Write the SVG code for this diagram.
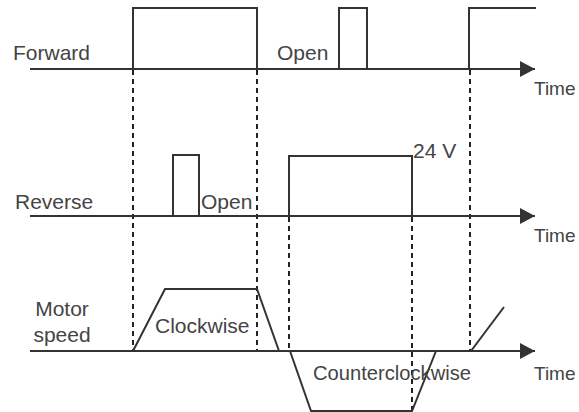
<svg xmlns="http://www.w3.org/2000/svg" width="579" height="412" viewBox="0 0 579 412">
<defs>
<style>
.t{font-family:"Liberation Sans",Arial,sans-serif;font-size:21px;fill:#444}
.tm{font-size:19px}
.s{fill:none;stroke:#333;stroke-width:2;stroke-linejoin:miter}
.d{fill:none;stroke:#222;stroke-width:2;stroke-dasharray:5 4}
</style>
<marker id="arr" markerWidth="16" markerHeight="16" refX="15" refY="8" markerUnits="userSpaceOnUse" orient="auto">
<path d="M0,0 L15,8 L0,16 Z" fill="#333"/>
</marker>
</defs>
<rect width="579" height="412" fill="#fff"/>
<g id="connectors">
<line class="d" x1="133" y1="70" x2="133" y2="350"/>
<line class="d" x1="257" y1="70" x2="257" y2="350"/>
<line class="d" x1="289" y1="217" x2="289" y2="350"/>
<line class="d" x1="412" y1="217" x2="412" y2="410"/>
<line class="d" x1="470" y1="70" x2="470" y2="350"/>
</g>
<g id="forward">
<text class="t" x="13" y="60">Forward</text>
<line class="s" x1="30" y1="69" x2="535" y2="69" marker-end="url(#arr)"/>
<polyline class="s" points="133,69 133,8 257,8 257,69"/>
<polyline class="s" points="339,69 339,8 367,8 367,69"/>
<polyline class="s" points="469,69 469,8 536,8"/>
<text class="t tm" x="534" y="95">Time</text>
<text class="t" x="277" y="60">Open</text>
</g>
<g id="reverse">
<text class="t" x="15" y="209">Reverse</text>
<line class="s" x1="30" y1="216" x2="535" y2="216" marker-end="url(#arr)"/>
<polyline class="s" points="173,216 173,155 199,155 199,216"/>
<polyline class="s" points="289,216 289,156 412,156 412,216"/>
<text class="t" x="201" y="209">Open</text>
<text class="t" x="413" y="158">24 V</text>
<text class="t tm" x="534" y="242">Time</text>
</g>
<g id="motor">
<text class="t" x="62" y="316" text-anchor="middle">Motor</text>
<text class="t" x="62" y="342" text-anchor="middle">speed</text>
<line class="s" x1="30" y1="351" x2="535" y2="351" marker-end="url(#arr)"/>
<polyline class="s" points="133,351 165,289 257,289 279,351"/>
<polyline class="s" points="290,351 311,411 412,411 436,351"/>
<line class="s" x1="471" y1="351" x2="504" y2="307"/>
<text class="t" x="155" y="333">Clockwise</text>
<text class="t" x="313" y="380" textLength="158" lengthAdjust="spacingAndGlyphs">Counterclockwise</text>
<text class="t tm" x="534" y="380">Time</text>
</g>
</svg>
